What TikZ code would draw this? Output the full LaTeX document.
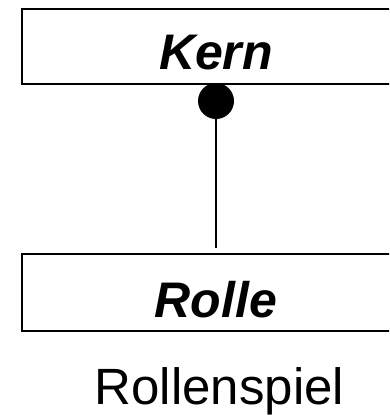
\documentclass[tikz,border=0pt]{standalone}
\usepackage{fontspec}
\setmainfont{Liberation Sans}
\usepackage{tikz}

\begin{document}
\begin{tikzpicture}[x=1pt,y=-1pt]
\tikzset{
  classBox/.style={draw,line width=2.5pt,minimum width=388pt,minimum height=75pt,inner sep=0pt,
    font=\fontsize{50}{60}\selectfont\bfseries\itshape,text height=46pt,text depth=0pt},
  roleDot/.style={circle,fill,inner sep=0pt,minimum size=36pt},
}
\useasboundingbox (0,0) rectangle (389,415);
\clip (0,0) rectangle (389,415);
\node[classBox] (kern) at (216,46.5) {Kern};
\node[classBox,minimum height=77pt,text height=50pt] (rolle) at (216,292.5) {Rolle};
\node[roleDot] (dot) at (216,101) {};
\draw[line width=2pt,shorten >=5pt] (dot) -- (rolle);
\node[anchor=base,font=\fontsize{51}{60}\selectfont] (caption) at (219.5,404) {Rollenspiel};
\end{tikzpicture}
\end{document}
